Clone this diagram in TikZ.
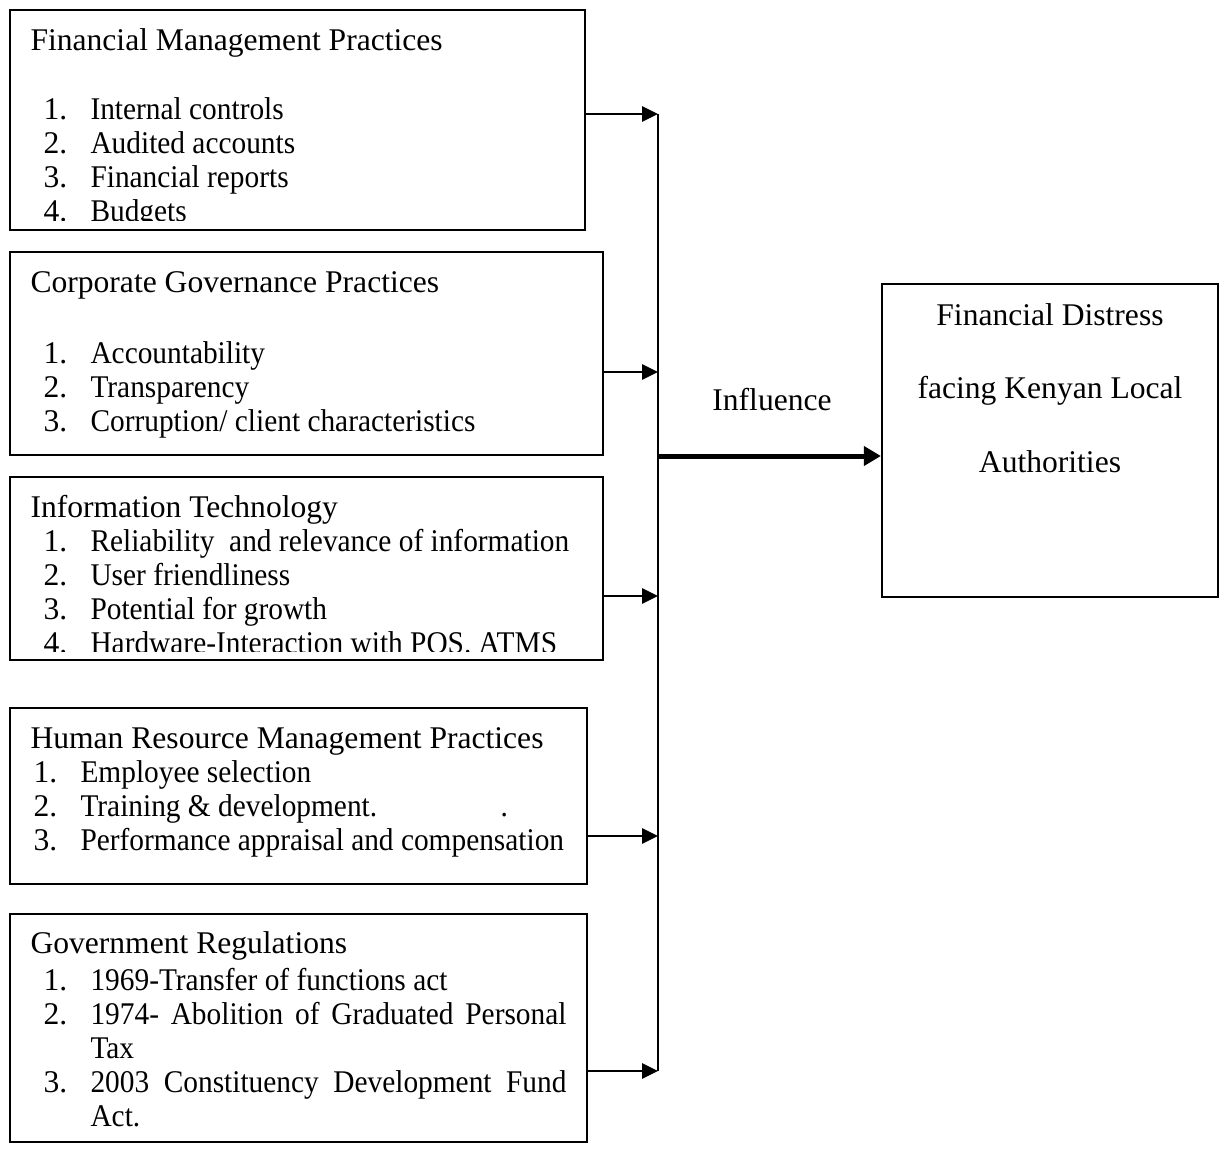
\documentclass[tikz,border=0pt]{standalone}
\usepackage{fontspec}
\setmainfont{Liberation Serif}
\newfontfamily\itemfont[FakeStretch=0.93]{Liberation Serif}
\usetikzlibrary{positioning,fit,arrows.meta}

\newlength{\pxl}\setlength{\pxl}{0.38pt}
\newlength{\numind}\setlength{\numind}{13\pxl}
\newlength{\txtind}\setlength{\txtind}{47\pxl}
\newcommand{\litem}[2]{\par\noindent\hangindent=\dimexpr\numind+\txtind\relax\hangafter=1
  \hspace*{\numind}\makebox[\txtind][l]{#1}{\itemfont #2}}

\tikzset{
  factorbox/.style={draw, line width=0.8pt, inner sep=0pt},
  factortext/.style={anchor=base west, inner sep=0pt, font=\fontsize{12}{12.92}\selectfont},
  feed/.style={-{Triangle[length=6pt,width=5.7pt]}, line width=0.8pt},
  bigfeed/.style={-{Triangle[length=6.5pt,width=7.2pt]}, line width=1.9pt},
}

\begin{document}
\begin{tikzpicture}[x=0.38pt,y=-0.38pt]
\useasboundingbox (0,0) rectangle (1222,1151);

% factor boxes
\node[factorbox, fit={(10,10) (585,230)}] (fm) {};
\node[factorbox, fit={(10,252) (603,455)}] (cg) {};
\node[factorbox, fit={(10,477) (603,660)}] (it) {};
\node[factorbox, fit={(10,708) (587,884)}] (hr) {};
\node[factorbox, fit={(10,914) (587,1142)}] (gr) {};
\node[factorbox, fit={(882,284) (1218,597)}] (fd) {};

% box texts
\begin{scope}
\clip (10,10) rectangle (585,221);
\node[factortext] (fmtext) at (30,51) {\parbox[t]{600\pxl}{Financial Management Practices\par\vspace{35\pxl}
  \litem{1.}{Internal controls}
  \litem{2.}{Audited accounts}
  \litem{3.}{Financial reports}
  \litem{4.}{Budgets}}};
\end{scope}

\node[factortext] (cgtext) at (30,293) {\parbox[t]{600\pxl}{Corporate Governance Practices\par\vspace{37\pxl}
  \litem{1.}{Accountability}
  \litem{2.}{Transparency}
  \litem{3.}{\vspace{2\pxl}Corruption/ client characteristics}}};

\begin{scope}
\clip (10,477) rectangle (603,651);
\node[factortext] (ittext) at (30,517) {\parbox[t]{600\pxl}{Information Technology
  \litem{1.}{Reliability~ and relevance of information}
  \litem{2.}{User friendliness}
  \litem{3.}{Potential for growth}
  \litem{4.}{Hardware-Interaction with POS. ATMS}}};
\end{scope}

\node[factortext] (hrtext) at (30,748) {\parbox[t]{600\pxl}{\setlength{\numind}{3\pxl}Human Resource Management Practices
  \litem{1.}{Employee selection}
  \litem{2.}{\makebox[420\pxl][l]{Training \& development.}.}
  \litem{3.}{Performance appraisal and compensation}}};

\node[factortext] (grtext) at (30,953) {\parbox[t]{536\pxl}{Government Regulations\par\vspace{3\pxl}
  \litem{1.}{1969-Transfer of functions act}
  \litem{2.}{1974- Abolition of Graduated Personal\linebreak Tax}
  \litem{3.}{2003 Constituency Development Fund\linebreak Act.}}};

\node[factortext, anchor=base, font=\fontsize{12}{28.12}\selectfont] (fdtext) at (1050,325)
  {\parbox[t]{320\pxl}{\centering Financial Distress\\ facing Kenyan Local\\ Authorities}};

\node[factortext, anchor=base] (infl) at (772,410) {Influence};

% bus and arrows
\coordinate (j1) at (658,114);
\coordinate (j2) at (658,372);
\coordinate (j3) at (658,596);
\coordinate (j4) at (658,836);
\coordinate (j5) at (658,1071);
\coordinate (jout) at (658,456);
\draw[line width=0.8pt] (j1) -- (j5);
\draw[feed] (fm.east |- j1) -- (j1);
\draw[feed] (cg.east |- j2) -- (j2);
\draw[feed] (it.east |- j3) -- (j3);
\draw[feed] (hr.east |- j4) -- (j4);
\draw[feed] (gr.east |- j5) -- (j5);
\draw[bigfeed] (jout) -- (fd.west |- jout);
\end{tikzpicture}
\end{document}
